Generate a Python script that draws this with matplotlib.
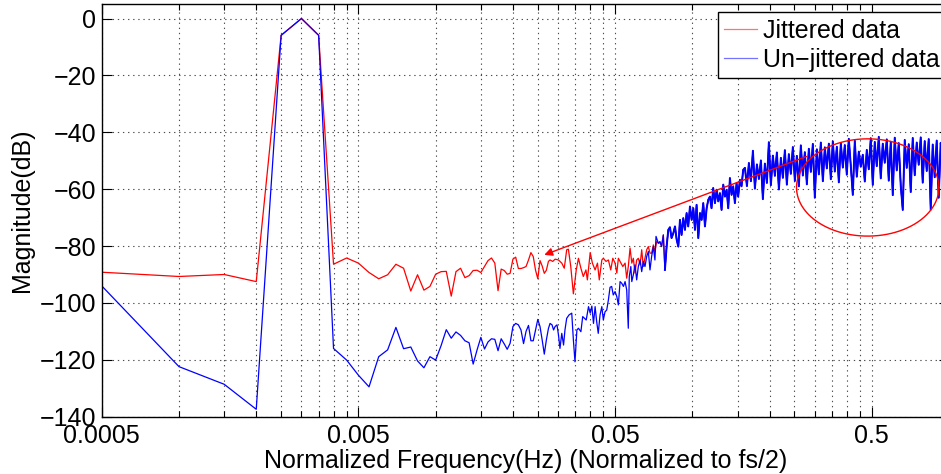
import numpy as np
import matplotlib
matplotlib.use("Agg")
import matplotlib.pyplot as plt

#====== DATA ==========================================
# low frequency FFT bins (same for both traces)
low_freq = [0.0005, 0.0010, 0.0015, 0.0020, 0.0025, 0.0030, 0.0035, 0.0040, 0.0045, 0.0050,
            0.0055, 0.0060, 0.0065, 0.0070, 0.0075, 0.0080, 0.0085, 0.0090, 0.0095, 0.0100,
            0.0105, 0.0110, 0.0115, 0.0120, 0.0125, 0.0130, 0.0135, 0.0140, 0.0145, 0.0150,
            0.0155, 0.0160, 0.0165, 0.0170, 0.0175, 0.0180, 0.0185, 0.0190, 0.0195, 0.0200,
            0.0205, 0.0210, 0.0215, 0.0220, 0.0225, 0.0230, 0.0235, 0.0240, 0.0245, 0.0250,
            0.0255, 0.0260, 0.0265, 0.0270, 0.0275]

jit_low_db = [-89.2, -90.7, -90.0, -92.5, -5.9, 0.0, -5.9, -86.4, -84.2, -86.0,
              -89.3, -91.5, -90.1, -86.4, -87.8, -95.8, -90.1, -95.5, -94.2, -89.9,
              -89.0, -88.9, -97.6, -89.0, -87.8, -91.1, -90.4, -88.6, -88.5, -89.3,
              -87.2, -85.1, -84.2, -86.0, -95.7, -88.1, -88.6, -89.9, -89.6, -84.6,
              -83.9, -87.9, -87.9, -87.6, -87.2, -84.9, -82.3, -83.7, -88.5, -91.5,
              -85.1, -87.0, -89.6, -88.5, -85.4]

clean_low_db = [-94.0, -122.4, -128.6, -137.4, -5.9, 0.0, -5.9, -116.0, -120.1, -125.4,
                -129.5, -118.9, -116.5, -108.6, -116.1, -115.5, -120.4, -122.8, -118.9, -120.1,
                -115.0, -109.4, -112.4, -110.2, -111.4, -113.3, -114.0, -121.5, -116.5, -112.1,
                -116.2, -113.7, -112.6, -112.8, -116.8, -112.6, -114.4, -116.3, -114.2, -108.3,
                -107.2, -107.7, -109.5, -114.3, -110.0, -107.9, -113.3, -113.3, -109.5, -105.8,
                -108.3, -113.0, -118.0, -113.0, -109.0]

# mid band, where the two traces differ
jit_mid_freq = [0.0279, 0.0286, 0.0292, 0.0301, 0.0310, 0.0317, 0.0324, 0.0329, 0.0336, 0.0344,
                0.0353, 0.0360, 0.0368, 0.0376, 0.0385, 0.0390, 0.0400, 0.0408, 0.0418, 0.0427,
                0.0434, 0.0444, 0.0450, 0.0461, 0.0471, 0.0481, 0.0490, 0.0500, 0.0508, 0.0515,
                0.0523, 0.0536, 0.0547, 0.0555, 0.0563, 0.0572, 0.0581, 0.0589, 0.0598, 0.0607,
                0.0616, 0.0626, 0.0635, 0.0644, 0.0654, 0.0664, 0.0674, 0.0684, 0.0694, 0.0705,
                0.0715, 0.0726, 0.0737, 0.0748, 0.0759, 0.0771]
jit_mid_db = [-84.9, -85.4, -84.6, -84.9, -86.0, -87.8, -81.3, -81.1, -87.2, -96.8,
              -88.4, -84.3, -87.8, -90.7, -88.4, -91.9, -82.3, -86.0, -88.4, -86.0,
              -91.9, -84.9, -84.3, -85.4, -84.9, -88.4, -84.3, -86.0, -89.5, -84.3,
              -85.4, -87.2, -86.0, -91.3, -87.2, -80.7, -86.0, -84.3, -89.5, -84.9,
              -84.3, -86.6, -81.3, -87.2, -84.3, -81.3, -80.2, -82.5, -82.5, -79.6,
              -81.9, -78.4, -79.0, -78.8, -79.9, -76.1]

clean_mid_freq = [0.0279, 0.0284, 0.0288, 0.0292, 0.0297, 0.0301, 0.0305, 0.0310, 0.0315, 0.0319,
                  0.0324, 0.0331, 0.0339, 0.0344, 0.0349, 0.0355, 0.0360, 0.0368, 0.0374, 0.0380,
                  0.0386, 0.0394, 0.0400, 0.0406, 0.0412, 0.0418, 0.0424, 0.0430, 0.0437, 0.0444,
                  0.0450, 0.0457, 0.0464, 0.0471, 0.0478, 0.0485, 0.0492, 0.0500, 0.0508, 0.0515,
                  0.0523, 0.0531, 0.0539, 0.0547, 0.0555, 0.0563, 0.0568, 0.0576, 0.0581, 0.0589,
                  0.0598, 0.0607, 0.0616, 0.0626, 0.0635, 0.0644, 0.0654, 0.0664, 0.0674, 0.0684,
                  0.0694, 0.0705, 0.0715, 0.0722, 0.0737, 0.0748, 0.0759, 0.0771]
clean_mid_db = [-107.2, -107.7, -109.5, -108.3, -107.7, -111.3, -116.0, -110.7, -114.8, -109.5,
                -105.4, -104.2, -103.6, -113.0, -120.7, -109.5, -108.9, -110.1, -104.8, -105.4,
                -106.0, -101.3, -103.6, -101.1, -107.2, -101.3, -106.6, -110.7, -104.2, -101.3,
                -106.0, -103.1, -102.5, -98.9, -94.5, -94.2, -97.2, -96.0, -97.8, -100.7,
                -92.5, -93.1, -94.2, -92.5, -95.4, -108.9, -90.7, -87.2, -92.5, -90.1,
                -86.6, -91.9, -87.2, -84.9, -89.0, -85.4, -87.2, -83.7, -81.9, -88.4,
                -83.7, -80.2, -84.9, -76.6, -79.0, -78.4, -80.2, -76.1]

# high band, both traces lie on top of each other
high_freq = [0.0782, 0.0794, 0.0806, 0.0818, 0.0830, 0.0843, 0.0856, 0.0869, 0.0882, 0.0895,
             0.0908, 0.0922, 0.0936, 0.0950, 0.0964, 0.0979, 0.0994, 0.1009, 0.1024, 0.1039,
             0.1055, 0.1071, 0.1087, 0.1103, 0.1120, 0.1137, 0.1154, 0.1171, 0.1188, 0.1206,
             0.1225, 0.1244, 0.1262, 0.1281, 0.1300, 0.1320, 0.1340, 0.1360, 0.1380, 0.1401,
             0.1422, 0.1443, 0.1465, 0.1487, 0.1509, 0.1532, 0.1555, 0.1578,
             0.1603, 0.1632, 0.1661, 0.1691, 0.1722, 0.1753, 0.1785, 0.1817, 0.1850, 0.1883,
             0.1917, 0.1952, 0.1987, 0.2023, 0.2060, 0.2097, 0.2135, 0.2174, 0.2213, 0.2253,
             0.2294, 0.2335, 0.2377, 0.2420, 0.2464, 0.2509, 0.2554, 0.2600, 0.2647, 0.2695,
             0.2744, 0.2794, 0.2844, 0.2896, 0.2948, 0.3001, 0.3056, 0.3111, 0.3167, 0.3225,
             0.3283, 0.3342, 0.3403, 0.3464, 0.3527, 0.3591, 0.3656, 0.3722, 0.3789, 0.3858,
             0.3927, 0.3998, 0.4070, 0.4144, 0.4219, 0.4295, 0.4373, 0.4452, 0.4532, 0.4614,
             0.4698, 0.4783, 0.4869, 0.4957, 0.5047, 0.5138, 0.5231, 0.5326, 0.5422, 0.5520,
             0.5620, 0.5722, 0.5825, 0.5931, 0.6038, 0.6147, 0.6258, 0.6371, 0.6487, 0.6604,
             0.6723, 0.6845, 0.6969, 0.7095, 0.7223, 0.7354, 0.7487, 0.7622, 0.7760, 0.7900,
             0.8043, 0.8189, 0.8337, 0.8487, 0.8641, 0.8797, 0.8956, 0.9118, 0.9283, 0.9451,
             0.9622, 0.9796, 0.9973]
high_db = [-88.4, -80.2, -74.3, -73.4, -77.2, -75.5, -73.1, -77.8, -80.2, -70.8,
           -76.1, -70.2, -74.3, -68.4, -73.1, -66.1, -70.8, -66.7, -74.3, -65.5,
           -77.2, -68.4, -70.8, -64.9, -73.1, -66.7, -63.7, -62.6, -66.7, -59.6,
           -64.9, -60.2, -64.3, -61.4, -67.3, -58.4, -62.6, -60.2, -66.7, -56.1,
           -62.0, -59.0, -64.9, -57.9, -62.6, -56.7, -59.0, -53.2,
           -52.5, -58.9, -50.8, -57.2, -46.5, -59.8, -51.3, -56.4, -49.9, -63.5,
           -51.0, -57.8, -43.5, -58.6, -48.2, -55.3, -47.1, -60.1, -49.0, -56.0,
           -46.3, -58.4, -47.7, -54.6, -45.2, -57.1, -48.3, -59.0, -44.6, -55.2,
           -47.0, -58.3, -45.8, -53.9, -44.1, -63.0, -46.0, -54.8, -43.6, -57.2,
           -45.3, -52.7, -44.0, -56.5, -43.2, -53.8, -45.1, -57.6, -43.9, -52.4,
           -44.5, -54.9, -42.3, -51.8, -62.0, -43.0, -55.6, -46.8, -52.1, -47.9,
           -57.3, -46.2, -53.0, -42.1, -58.5, -43.4, -51.9, -41.6, -56.2, -44.0,
           -50.7, -42.5, -57.0, -43.3, -62.1, -41.9, -53.4, -43.8, -58.8, -67.3,
           -42.7, -52.5, -44.2, -61.0, -42.0, -55.1, -43.6, -51.4, -41.8, -57.7,
           -43.1, -53.6, -42.4, -67.2, -44.3, -55.8, -42.9, -63.0, -43.7, -52.2,
           -42.6, -56.3, -43.4]

series_labels = ["Jittered data", "Un\u2212jittered data"]
xtick_vals = [0.0005, 0.005, 0.05, 0.5]
xtick_labels = ["0.0005", "0.005", "0.05", "0.5"]
ytick_vals = [0, -20, -40, -60, -80, -100, -120, -140]

# annotation: arrow from the circled region to the jittered noise floor
arrow_from = (0.2785, -48.5)
arrow_to = (0.0265, -83.1)
ellipse_center = (0.4823, -59.4)
ellipse_half_decades = 0.2774
ellipse_half_db = 17.1

#====== PLOT ==========================================
plt.rcParams["font.family"] = ["Liberation Sans", "DejaVu Sans"]
plt.rcParams["font.size"] = 18

fig = plt.figure(figsize=(9.41, 4.74), dpi=100)
ax = fig.add_axes([0.1081, 0.1209, 0.9004, 0.8700])

jit_f = low_freq + jit_mid_freq + high_freq
jit_db = jit_low_db + jit_mid_db + high_db
clean_f = low_freq + clean_mid_freq + high_freq
clean_db = clean_low_db + clean_mid_db + high_db

ax.plot(jit_f, jit_db, color="r", lw=0.9, label=series_labels[0])
ax.plot(clean_f, clean_db, color="b", lw=0.9, label=series_labels[1])
# the real trace is very dense up there, thicken it a bit so it reads as a band
ax.plot(high_freq, high_db, color="b", lw=1.4)

ax.set_xscale("log")
ax.set_xticks(xtick_vals)
ax.set_xticklabels(xtick_labels)
ax.set_xticks([m * t for t in xtick_vals for m in range(2, 10)], minor=True)
ax.set_yticks(ytick_vals)
# limits after the ticks, set_xticks would widen them
ax.set_xlim(0.0005, 1.0)
ax.set_ylim(-140, 5)
ax.tick_params(which="both", direction="in", top=True, right=True, width=0.8)
ax.tick_params(which="major", length=7)
ax.tick_params(which="minor", length=4, labelbottom=False)
ax.tick_params(axis="x", pad=5)
ax.tick_params(axis="y", pad=4)

dots = (0, (1.2, 3.4))
ax.grid(True, which="major", color="0.3", linestyle=dots, linewidth=0.8)
ax.grid(True, which="minor", axis="x", color="0.3", linestyle=dots, linewidth=0.8)
for s in ax.spines.values():
    s.set_linewidth(1.0)

ax.set_xlabel("Normalized Frequency(Hz) (Normalized to fs/2)", labelpad=1)
ax.set_ylabel("Magnitude(dB)", labelpad=4)

# ellipse drawn in log-x space so it looks round on screen
t = np.linspace(0, 2 * np.pi, 200)
ex = 10 ** (np.log10(ellipse_center[0]) + ellipse_half_decades * np.cos(t))
ey = ellipse_center[1] + ellipse_half_db * np.sin(t)
ax.plot(ex, ey, color="r", lw=1.0, zorder=5)

ax.annotate("", xy=arrow_to, xytext=arrow_from,
            arrowprops=dict(arrowstyle="-|>", color="r", lw=1.0,
                            mutation_scale=12, shrinkA=0, shrinkB=0),
            zorder=5)

# figure is cropped on the right in the original, legend runs off the edge
leg = ax.legend(loc="upper right", bbox_to_anchor=(0.9965, 0.9806),
                fancybox=False, framealpha=1, edgecolor="k",
                borderpad=0.25, labelspacing=0.2, borderaxespad=0,
                handlelength=1.3, handletextpad=0.25)
leg.get_frame().set_linewidth(1.0)
for line in leg.get_lines():
    line.set_alpha(0.55)

fig.savefig("out.png", dpi=100, facecolor="white")
